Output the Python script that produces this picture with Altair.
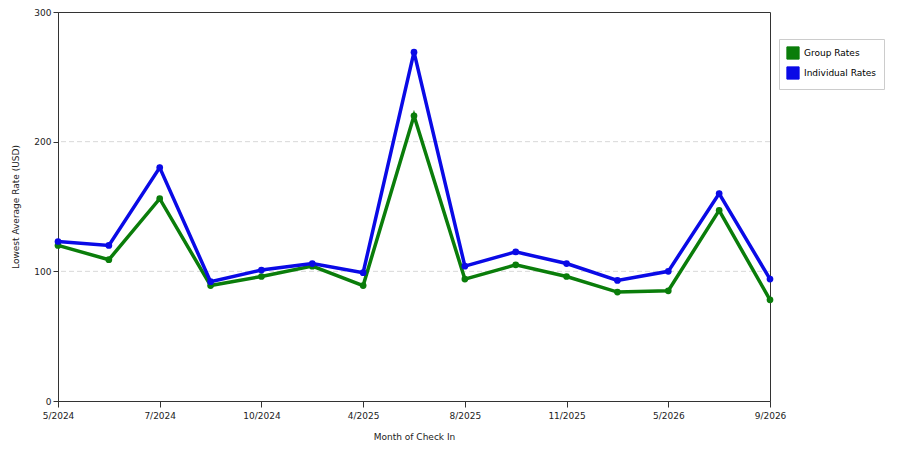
import altair as alt
import pandas as pd


# Months of check-in (only every other one is labelled on the axis)
months = ["5/2024", "6/2024", "7/2024", "8/2024", "10/2024", "12/2024", "4/2025", "6/2025",
          "8/2025", "9/2025", "11/2025", "2/2026", "5/2026", "7/2026", "9/2026"]
group_rates = [120, 109, 156, 89, 96, 104, 89, 220, 94, 105, 96, 84, 85, 147, 78]
individual_rates = [123, 120, 180, 92, 101, 106, 99, 269, 104, 115, 106, 93, 100, 160, 94]
tick_labels = months[::2]
y_ticks = [0, 100, 200, 300]
grid_values = [100, 200]
series = ["Group Rates", "Individual Rates"]
colors = ["#0a7d0a", "#0a0ae6"]


def make_chart():
    source = pd.DataFrame({
        'month': months * 2,
        'rate': group_rates + individual_rates,
        'series': [series[0]] * len(months) + [series[1]] * len(months),
    })
    grid = pd.DataFrame({'rate': grid_values})

    x = alt.X('month:O', sort=months, scale=alt.Scale(type='point', padding=0),
              axis=alt.Axis(values=tick_labels, labelAngle=0, title='Month of Check In',
                            titlePadding=12, labelPadding=4, tickSize=6))
    y = alt.Y('rate:Q', scale=alt.Scale(domain=[0, 300], nice=False),
              axis=alt.Axis(values=y_ticks, title='Lowest Average Rate (USD)',
                            titlePadding=13, tickSize=5, grid=False))
    color_scale = alt.Scale(domain=series, range=colors)
    color = alt.Color('series:N', scale=color_scale,
                      legend=alt.Legend(title=None, orient='none', legendX=721, legendY=27,
                                        symbolType='square', symbolSize=150,
                                        symbolStrokeColor='#222', symbolStrokeWidth=1,
                                        strokeColor='#ccc', padding=7, rowPadding=2,
                                        labelFontSize=9, labelFont='DejaVu Sans',
                                        symbolOpacity=1))

    gridlines = alt.Chart(grid).mark_rule(color='#d8d8d8', strokeDash=[5, 3]).encode(
        y=alt.Y('rate:Q', scale=alt.Scale(domain=[0, 300], nice=False))
    )
    lines = alt.Chart(source).mark_line(strokeWidth=3.5).encode(x=x, y=y, color=color)
    points = alt.Chart(source).mark_point(filled=True, size=45, opacity=1).encode(
        x=x, y=y, color=alt.Color('series:N', scale=color_scale, legend=None))

    chart = alt.layer(gridlines, lines, points).properties(
        width=712, height=389,
        autosize=alt.AutoSizeParams(type='none'),
        padding={'left': 50, 'top': 4, 'right': 122, 'bottom': 49},
    ).configure_view(
        stroke='#333', strokeWidth=1
    ).configure_axis(
        labelFont='DejaVu Sans', titleFont='DejaVu Sans', labelFontSize=9, titleFontSize=9,
        titleFontWeight='normal', labelColor='#222', titleColor='#222',
        domainColor='#333', tickColor='#333'
    )
    return chart


if __name__ == '__main__':
    chart = make_chart()
    chart.save("out.html", embed_options={"renderer": "svg", "actions": False})
